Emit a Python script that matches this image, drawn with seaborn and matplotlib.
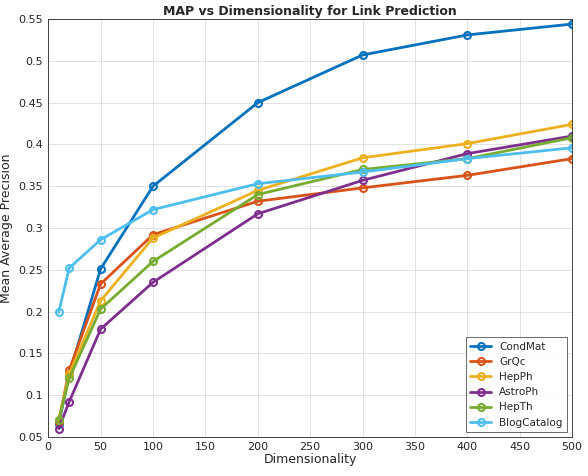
import matplotlib
matplotlib.use("Agg")
import matplotlib.pyplot as plt
import seaborn as sns
import pandas as pd

dims = [10, 20, 50, 100, 200, 300, 400, 500]
condmat = [0.065, 0.125, 0.251, 0.350, 0.450, 0.507, 0.531, 0.544]
grqc = [0.068, 0.130, 0.233, 0.292, 0.332, 0.348, 0.363, 0.383]
hepph = [0.070, 0.125, 0.213, 0.288, 0.345, 0.384, 0.401, 0.424]
astroph = [0.060, 0.092, 0.179, 0.235, 0.317, 0.357, 0.389, 0.410]
hepth = [0.070, 0.120, 0.203, 0.260, 0.340, 0.370, 0.383, 0.408]
blogcatalog = [0.199, 0.252, 0.286, 0.322, 0.353, 0.367, 0.383, 0.396]

series = {"CondMat": condmat, "GrQc": grqc, "HepPh": hepph,
          "AstroPh": astroph, "HepTh": hepth, "BlogCatalog": blogcatalog}
colors = ["#0072BD", "#D95319", "#EDB120", "#7E2F8E", "#77AC30", "#4DBEEE"]

df = pd.DataFrame([(k, d, v) for k, vals in series.items() for d, v in zip(dims, vals)],
                  columns=["dataset", "dim", "map"])

sns.set_style("white")
plt.rcParams["font.family"] = ["DejaVu Sans"]
fig, ax = plt.subplots(figsize=(5.88, 4.76), dpi=100)
sns.lineplot(data=df, x="dim", y="map", hue="dataset", palette=colors, marker="o",
             markersize=5, markerfacecolor="none", markeredgewidth=1.5, linewidth=2,
             ax=ax)
for line in ax.lines:
    line.set_markeredgecolor(line.get_color())
ax.set_xlim(0, 500)
ax.set_ylim(0.05, 0.55)
ax.set_xticks(range(0, 501, 50))
ax.set_yticks([0.05 + 0.05 * i for i in range(11)])
ax.set_yticklabels(["0.05", "0.1", "0.15", "0.2", "0.25", "0.3", "0.35", "0.4", "0.45", "0.5", "0.55"])
ax.grid(True, color="#dddddd", linewidth=0.6)
ax.tick_params(direction="in", labelsize=8, length=3)
for s in ax.spines.values():
    s.set_color("#262626")
    s.set_linewidth(0.6)
ax.set_xlabel("Dimensionality", fontsize=9, labelpad=1)
ax.set_ylabel("Mean Average Precision", fontsize=9)
ax.set_title("MAP vs Dimensionality for Link Prediction", fontsize=9, fontweight="bold", pad=3)
leg = ax.legend(loc="lower right", fontsize=7.5, frameon=True, fancybox=False, edgecolor="#262626")
leg.get_frame().set_linewidth(0.6)
for h in leg.get_lines():
    h.set_markerfacecolor("none")
fig.subplots_adjust(left=0.082, right=0.973, bottom=0.082, top=0.96)
fig.savefig("out.png", dpi=100)
